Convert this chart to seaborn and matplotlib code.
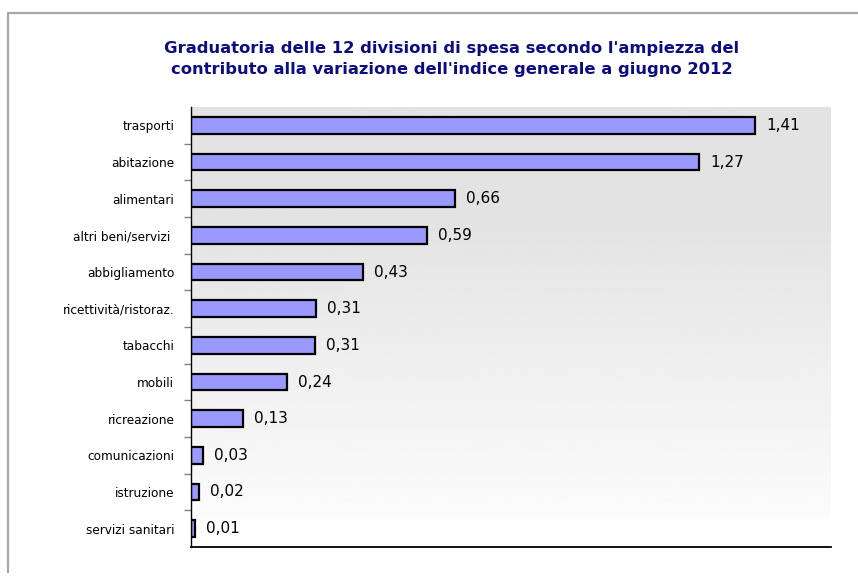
import seaborn as sns
import matplotlib.pyplot as plt
import numpy as np
import pandas as pd

categories = ["trasporti", "abitazione", "alimentari", "altri beni/servizi ",
              "abbigliamento", "ricettività/ristoraz.", "tabacchi", "mobili",
              "ricreazione", "comunicazioni", "istruzione", "servizi sanitari"]
values = [1.41, 1.27, 0.66, 0.59, 0.43, 0.313, 0.309, 0.24, 0.13, 0.03, 0.02, 0.01]

title = ("Graduatoria delle 12 divisioni di spesa secondo l'ampiezza del\n"
         "contributo alla variazione dell'indice generale a giugno 2012")

df = pd.DataFrame({"divisione": categories, "contributo": values})

sns.set_style("white")
plt.rcParams["font.family"] = ["DejaVu Sans"]

fig = plt.figure(figsize=(8.58, 5.76), dpi=100)
ax = fig.add_axes([191 / 858, 1 - 547 / 576, 640 / 858, 440 / 576])

# gradient background of the plot area
t = np.linspace(0, 1, 400)
shade = np.interp(t, [0, 0.25, 0.93, 0.94, 1], [0.89, 0.89, 0.985, 1.0, 1.0])
grad = np.repeat(shade[:, None], 2, axis=1)
ax.imshow(grad, extent=[0, 1, 0, 1], transform=ax.transAxes, aspect="auto",
          cmap="gray", vmin=0, vmax=1, origin="upper", zorder=0)

sns.barplot(data=df, x="contributo", y="divisione", orient="h", color="#9999FF",
            saturation=1, width=0.45, edgecolor="black", linewidth=1.6, ax=ax, zorder=2)

ax.bar_label(ax.containers[0], labels=[f"{v:.2f}".replace(".", ",") for v in values],
             padding=8, fontsize=11, color="black")

ax.set_xlim(0, 1.6)
ax.set_ylim(len(categories) - 0.5, -0.5)
ax.set_xlabel("")
ax.set_ylabel("")
ax.set_xticks([])
ax.set_yticks(np.arange(0.5, len(categories) - 1, 1), minor=True)
ax.tick_params(axis="y", which="major", length=0, pad=12, labelsize=8.7, labelcolor="black")
ax.tick_params(axis="y", which="minor", length=5, width=1, color="#808080", left=True)

for side in ["top", "right"]:
    ax.spines[side].set_visible(False)
ax.spines["left"].set_color("black")
ax.spines["left"].set_linewidth(1.0)
ax.spines["bottom"].set_color("black")
ax.spines["bottom"].set_linewidth(1.3)

fig.text(452 / 858, 1 - 59 / 576, title, ha="center", va="center", fontsize=11.8,
         fontweight="bold", color="#0d0d80", linespacing=1.45)

# outer frame (only top and left edges visible in the image)
fig.add_artist(plt.Line2D([8 / 858, 1.0], [1 - 13 / 576, 1 - 13 / 576],
                          transform=fig.transFigure, color="#A8A8A8", linewidth=1.6))
fig.add_artist(plt.Line2D([8 / 858, 8 / 858], [1 - 13 / 576, 1 - 572 / 576],
                          transform=fig.transFigure, color="#A8A8A8", linewidth=1.6))

fig.savefig("out.png", dpi=100)
